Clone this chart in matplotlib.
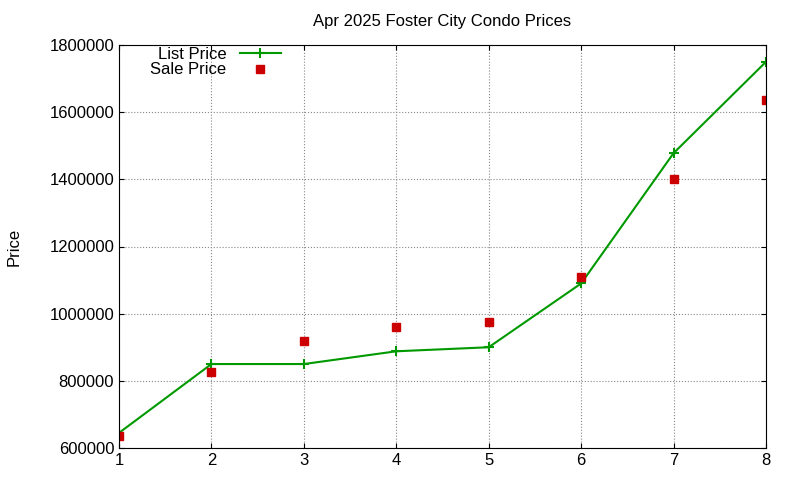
import matplotlib
matplotlib.use("Agg")
import matplotlib.pyplot as plt

x = [1, 2, 3, 4, 5, 6, 7, 8]
list_price = [645000, 850000, 850000, 888000, 900000, 1090000, 1478000, 1750000]
sale_price = [635000, 825000, 918000, 960000, 975000, 1110000, 1400000, 1636000]
yticks = [600000, 800000, 1000000, 1200000, 1400000, 1600000, 1800000]

plt.rcParams['font.family'] = ['Liberation Sans', 'DejaVu Sans']
fig = plt.figure(figsize=(8, 4.8), dpi=100)
ax = fig.add_axes([119/800, 1-448/480, (766-119)/800, (448-45)/480])
ax.plot(x, list_price, color='#009900', lw=1.5, marker='+', ms=7, mew=1.5, label='List Price')
ax.plot(x, sale_price, ls='none', marker='s', ms=6, color='#cc0000', label='Sale Price')
ax.set_xlim(1, 8)
ax.set_ylim(600000, 1800000)
ax.set_xticks(x)
ax.set_yticks(yticks)
ax.set_yticklabels([str(v) for v in yticks])
ax.tick_params(labelsize=12, direction='in', top=True, right=True)
ax.grid(True, ls=':', color='#888888', lw=0.8)
ax.set_ylabel('Price', fontsize=12, labelpad=20)
ax.set_title('Apr 2025 Foster City Condo Prices', fontsize=12, pad=14)
leg = ax.legend(loc='upper left', bbox_to_anchor=(0.03, 1.025), frameon=False, fontsize=12,
                markerfirst=False, handlelength=2.5, borderaxespad=0.3, labelspacing=0.05)
for t in leg.get_texts():
    t.set_ha('right')
fig.savefig('out.png', dpi=100)
